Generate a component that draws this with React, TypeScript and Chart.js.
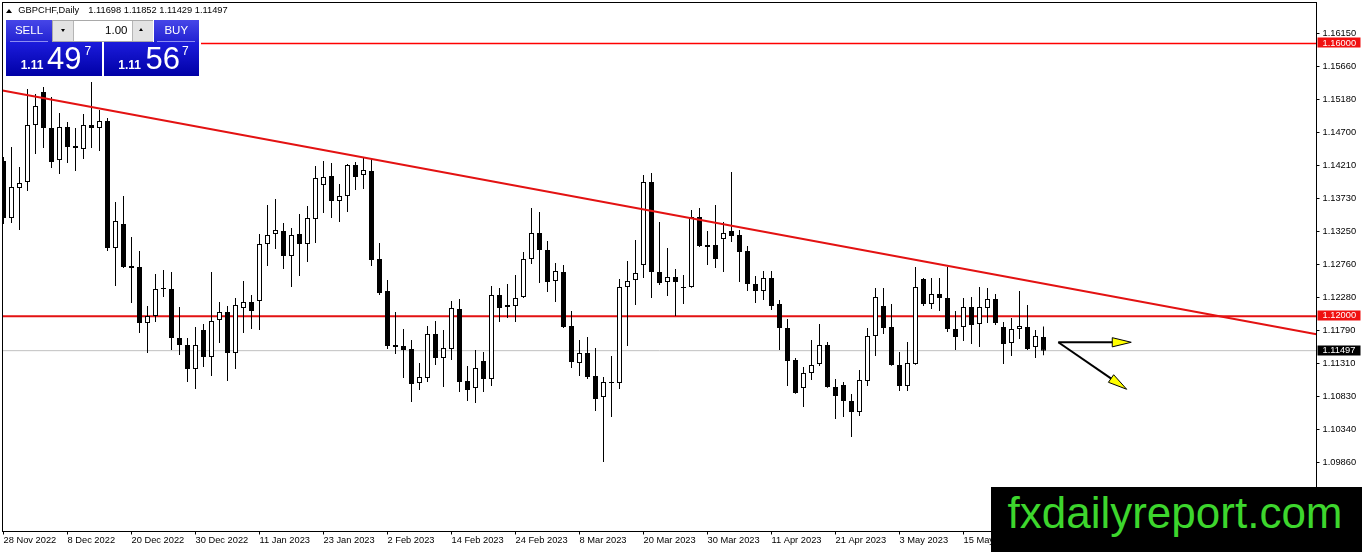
import React, { useEffect, useRef } from "react";
import { Chart, registerables } from "chart.js";

Chart.register(...registerables);

const FONT = '"Liberation Sans", Arial, sans-serif';

// ---- Daily GBPCHF candles (open / high / low / close) ----
const OPEN = [
  1.14277, 1.13442, 1.13882, 1.1397, 1.14806, 1.1529, 1.14762, 1.14292, 1.14776, 1.14498,
  1.14454, 1.14806, 1.14762, 1.14864, 1.13002, 1.13354, 1.12738, 1.12723, 1.11903, 1.12005,
  1.12416, 1.12402, 1.11683, 1.11581, 1.11228, 1.118, 1.11404, 1.11947, 1.12064, 1.11463,
  1.12123, 1.12211, 1.12225, 1.13061, 1.13207, 1.13251, 1.12885, 1.13207, 1.13061, 1.13428,
  1.13926, 1.14058, 1.13691, 1.13765, 1.14219, 1.14073, 1.14131, 1.12841, 1.12372, 1.11581,
  1.11566, 1.11522, 1.11023, 1.11097, 1.11741, 1.1139, 1.11522, 1.12108, 1.11052, 1.1095,
  1.11346, 1.11082, 1.12314, 1.12137, 1.12152, 1.12284, 1.12841, 1.13222, 1.12973, 1.12518,
  1.12651, 1.11859, 1.11316, 1.11463, 1.11126, 1.10818, 1.11038, 1.11023, 1.1243, 1.12533,
  1.12753, 1.1397, 1.12651, 1.12504, 1.12577, 1.1243, 1.1243, 1.13457, 1.13046, 1.13046,
  1.13134, 1.13251, 1.13193, 1.12958, 1.12474, 1.12372, 1.12562, 1.12181, 1.1183, 1.1136,
  1.1095, 1.1117, 1.11302, 1.11581, 1.10965, 1.10994, 1.10759, 1.10598, 1.11052, 1.11712,
  1.12152, 1.11844, 1.11287, 1.1098, 1.11302, 1.12548, 1.12181, 1.12328, 1.12269, 1.11815,
  1.11844, 1.12137, 1.11888, 1.12123, 1.12255, 1.11844, 1.1161, 1.11815, 1.11844, 1.11551,
  1.11698,
];
const HIGH = [
  1.14336, 1.14483, 1.14189, 1.15334, 1.1526, 1.15362, 1.15216, 1.14981, 1.1485, 1.14762,
  1.14966, 1.15436, 1.15025, 1.14908, 1.13677, 1.13765, 1.13163, 1.12958, 1.12152, 1.12621,
  1.1268, 1.12651, 1.12137, 1.11683, 1.11844, 1.11888, 1.12651, 1.12211, 1.12152, 1.12269,
  1.12518, 1.12314, 1.13207, 1.13633, 1.13721, 1.13369, 1.13296, 1.135, 1.13618, 1.14204,
  1.14277, 1.14248, 1.1394, 1.14234, 1.14263, 1.14322, 1.14322, 1.13076, 1.12533, 1.12064,
  1.11815, 1.11654, 1.11316, 1.11859, 1.11932, 1.118, 1.12225, 1.12255, 1.11272, 1.11507,
  1.11478, 1.12445, 1.12416, 1.12474, 1.12606, 1.12944, 1.13589, 1.1353, 1.13105, 1.12782,
  1.12753, 1.12078, 1.11654, 1.11698, 1.11537, 1.11111, 1.11419, 1.12548, 1.12812, 1.1312,
  1.14073, 1.14102, 1.13384, 1.13002, 1.12694, 1.12606, 1.13559, 1.13589, 1.13251, 1.13633,
  1.13384, 1.14117, 1.13266, 1.13032, 1.12592, 1.12665, 1.12665, 1.1224, 1.11961, 1.1139,
  1.11257, 1.11654, 1.11888, 1.11624, 1.11082, 1.11038, 1.10862, 1.11214, 1.1183, 1.12416,
  1.12416, 1.12181, 1.11478, 1.11624, 1.12723, 1.12562, 1.12562, 1.12562, 1.12723, 1.12078,
  1.12269, 1.12284, 1.1243, 1.12416, 1.12328, 1.11918, 1.11976, 1.12372, 1.12167, 1.118,
  1.11852,
];
const LOW = [
  1.13354, 1.13369, 1.13266, 1.13838, 1.1438, 1.14469, 1.14175, 1.14087, 1.14248, 1.14131,
  1.14307, 1.14469, 1.14424, 1.12958, 1.12445, 1.12709, 1.12196, 1.11756, 1.11463, 1.11918,
  1.12284, 1.11507, 1.11434, 1.11038, 1.10936, 1.11257, 1.11126, 1.1161, 1.11052, 1.11228,
  1.11756, 1.11815, 1.118, 1.12738, 1.12988, 1.12694, 1.1243, 1.12592, 1.12797, 1.13076,
  1.13515, 1.13442, 1.13384, 1.1353, 1.13853, 1.13867, 1.12738, 1.12314, 1.11522, 1.11448,
  1.11097, 1.10745, 1.10921, 1.11038, 1.11287, 1.10965, 1.1136, 1.10892, 1.10759, 1.1073,
  1.10892, 1.1098, 1.11918, 1.11976, 1.11918, 1.12269, 1.12767, 1.12489, 1.12358, 1.12211,
  1.1183, 1.11243, 1.11126, 1.11082, 1.10613, 1.09865, 1.10525, 1.10936, 1.11566, 1.12167,
  1.12562, 1.12269, 1.1246, 1.12299, 1.12005, 1.12181, 1.1242, 1.13017, 1.12753, 1.12709,
  1.12651, 1.1309, 1.12504, 1.12372, 1.12196, 1.1224, 1.12093, 1.11507, 1.1098, 1.10865,
  1.10671, 1.11067, 1.11272, 1.10955, 1.10496, 1.10525, 1.10232, 1.1054, 1.1098, 1.11419,
  1.11741, 1.11275, 1.10906, 1.10906, 1.1129, 1.12152, 1.12108, 1.12078, 1.11771, 1.11507,
  1.11639, 1.11595, 1.11551, 1.11903, 1.11874, 1.11302, 1.11419, 1.11668, 1.11507, 1.1139,
  1.11429,
];
const CLOSE = [
  1.13442, 1.13896, 1.13955, 1.14806, 1.15084, 1.14762, 1.14263, 1.14776, 1.14483, 1.14469,
  1.14806, 1.14762, 1.14864, 1.13002, 1.13398, 1.12723, 1.12709, 1.11903, 1.12005, 1.12402,
  1.12402, 1.11683, 1.11581, 1.11228, 1.11581, 1.11404, 1.11932, 1.12064, 1.11463, 1.12167,
  1.12211, 1.12078, 1.13061, 1.13193, 1.13266, 1.12885, 1.13193, 1.13061, 1.13442, 1.14029,
  1.14043, 1.13691, 1.13765, 1.14219, 1.14043, 1.14146, 1.12826, 1.12343, 1.11566, 1.11551,
  1.11507, 1.11008, 1.11111, 1.11741, 1.1139, 1.11537, 1.12123, 1.11038, 1.10921, 1.11243,
  1.11082, 1.12314, 1.12123, 1.12167, 1.12269, 1.12841, 1.13222, 1.12973, 1.12504, 1.12665,
  1.11844, 1.11331, 1.11463, 1.11111, 1.10789, 1.11038, 1.11023, 1.1243, 1.12518, 1.12636,
  1.1397, 1.12651, 1.12489, 1.12577, 1.12504, 1.12416, 1.13457, 1.13032, 1.13017, 1.12841,
  1.13222, 1.13178, 1.12944, 1.12474, 1.12372, 1.12562, 1.12152, 1.1183, 1.11346, 1.10877,
  1.1117, 1.11287, 1.11581, 1.10965, 1.10833, 1.10759, 1.10598, 1.11067, 1.11712, 1.12284,
  1.1183, 1.11287, 1.1098, 1.11316, 1.1243, 1.12181, 1.12328, 1.12269, 1.11815, 1.11698,
  1.12137, 1.11874, 1.12137, 1.12255, 1.11903, 1.11595, 1.11815, 1.11859, 1.11522, 1.11712,
  1.11497,
];

// ---- axes ----
const DATE_LABELS = [
  "28 Nov 2022", "8 Dec 2022", "20 Dec 2022", "30 Dec 2022", "11 Jan 2023", "23 Jan 2023",
  "2 Feb 2023", "14 Feb 2023", "24 Feb 2023", "8 Mar 2023", "20 Mar 2023", "30 Mar 2023",
  "11 Apr 2023", "21 Apr 2023", "3 May 2023", "15 May 2023", "25 May 2023",
];
const BARS_PER_LABEL = 8;
const PRICE_TICKS = [
  1.1615, 1.1566, 1.1518, 1.147, 1.1421, 1.1373, 1.1325, 1.1276, 1.1228, 1.1179, 1.1131,
  1.1083, 1.1034, 1.0986,
];
const X_MIN = -0.125;
const X_MAX = 164.125;
const Y_MIN = 1.08846;
const Y_MAX = 1.16601;

// ---- drawing objects ----
const LEVEL_THIN = 1.16;
const LEVEL_THICK = 1.12;
const BID = 1.11497;
const TREND_LINE = [
  { x: -0.125, y: 1.15311 },
  { x: 164.125, y: 1.11739 },
];
const ARROW_START = { x: 131.85, y: 1.1162 };
const ARROW_ENDS = [
  { x: 140.97, y: 1.1162 },
  { x: 140.4, y: 1.10931 },
];

const RED = "#e31212";

function drawArrow(ctx: CanvasRenderingContext2D, x1: number, y1: number, x2: number, y2: number) {
  const ang = Math.atan2(y2 - y1, x2 - x1);
  const len = 19;
  const hw = 4.6;
  const bx = x2 - len * Math.cos(ang);
  const by = y2 - len * Math.sin(ang);
  ctx.beginPath();
  ctx.moveTo(x1, y1);
  ctx.lineTo(bx + 2 * Math.cos(ang), by + 2 * Math.sin(ang));
  ctx.strokeStyle = "#000";
  ctx.lineWidth = 2;
  ctx.stroke();
  ctx.beginPath();
  ctx.moveTo(x2, y2);
  ctx.lineTo(bx + hw * Math.sin(ang), by - hw * Math.cos(ang));
  ctx.lineTo(bx - hw * Math.sin(ang), by + hw * Math.cos(ang));
  ctx.closePath();
  ctx.fillStyle = "#ffff00";
  ctx.fill();
  ctx.lineWidth = 1;
  ctx.strokeStyle = "#000";
  ctx.stroke();
}

const overlayPlugin = {
  id: "mtOverlay",
  afterDraw(chart: any) {
    const { ctx, chartArea: a, scales } = chart;
    const xs = scales.x;
    const ys = scales.y;
    ctx.save();
    // frame
    ctx.strokeStyle = "#000";
    ctx.lineWidth = 1;
    ctx.strokeRect(a.left, a.top, a.right - a.left, a.bottom - a.top);
    // arrows
    const sx = xs.getPixelForValue(ARROW_START.x);
    const sy = ys.getPixelForValue(ARROW_START.y);
    ARROW_ENDS.forEach((e) => {
      drawArrow(ctx, sx, sy, xs.getPixelForValue(e.x), ys.getPixelForValue(e.y));
    });
    // price boxes on the axis
    const boxes = [
      { v: LEVEL_THIN, bg: "#f01010" },
      { v: LEVEL_THICK, bg: "#f01010" },
      { v: BID, bg: "#000000" },
    ];
    ctx.font = `9.3px ${FONT}`;
    ctx.textBaseline = "middle";
    ctx.textAlign = "left";
    boxes.forEach((b) => {
      const y = ys.getPixelForValue(b.v);
      ctx.fillStyle = b.bg;
      ctx.fillRect(a.right + 1, Math.round(y) - 5.5, 43, 10);
      ctx.fillStyle = "#fff";
      ctx.fillText(b.v.toFixed(5), a.right + 6, y - 0.5);
    });
    ctx.restore();
  },
};

const abs = (o: React.CSSProperties): React.CSSProperties => ({
  position: "absolute",
  lineHeight: 1,
  whiteSpace: "nowrap",
  fontFamily: FONT,
  margin: 0,
  ...o,
});

export default function App() {
  const ref = useRef<HTMLCanvasElement | null>(null);

  useEffect(() => {
    if (!ref.current) return;
    const idx = OPEN.map((_, i) => i);
    const bodies = idx.map((i) => ({ x: i, y: [OPEN[i], CLOSE[i]] }));
    const wicks = idx.map((i) => ({ x: i, y: [LOW[i], HIGH[i]] }));
    const bodyColors = idx.map((i) => (CLOSE[i] >= OPEN[i] ? "#ffffff" : "#000000"));
    const hline = (v: number) => [
      { x: X_MIN, y: v },
      { x: X_MAX, y: v },
    ];
    const tickFont = { family: FONT, size: 9.3 };

    const chart = new Chart(ref.current, {
      type: "bar",
      data: {
        datasets: [
          {
            type: "line",
            data: TREND_LINE,
            borderColor: RED,
            borderWidth: 2,
            pointRadius: 0,
            order: 0,
          } as any,
          {
            type: "bar",
            data: bodies,
            backgroundColor: bodyColors,
            borderColor: "#000",
            borderWidth: 1,
            borderSkipped: false,
            grouped: false,
            maxBarThickness: 5,
            inflateAmount: 0,
            order: 1,
          } as any,
          {
            type: "bar",
            data: wicks,
            backgroundColor: "#000",
            borderWidth: 0,
            grouped: false,
            maxBarThickness: 1,
            inflateAmount: 0,
            order: 2,
          } as any,
          {
            type: "line",
            data: hline(LEVEL_THICK),
            borderColor: RED,
            borderWidth: 2,
            pointRadius: 0,
            order: 3,
          } as any,
          {
            type: "line",
            data: hline(LEVEL_THIN),
            borderColor: "#ff0000",
            borderWidth: 1.4,
            pointRadius: 0,
            order: 3,
          } as any,
          {
            type: "line",
            data: hline(BID),
            borderColor: "#c0c0c0",
            borderWidth: 1,
            pointRadius: 0,
            order: 4,
          } as any,
        ],
      },
      options: {
        animation: false,
        responsive: false,
        maintainAspectRatio: false,
        events: [],
        layout: { padding: { left: 2.5, top: 2.5, right: 0, bottom: 0 } },
        plugins: { legend: { display: false }, tooltip: { enabled: false } },
        scales: {
          x: {
            type: "linear",
            position: "bottom",
            min: X_MIN,
            max: X_MAX,
            offset: false,
            grid: {
              display: true,
              drawOnChartArea: false,
              drawTicks: true,
              tickLength: 3,
              color: "#000",
              offset: false,
            },
            border: { display: false },
            afterBuildTicks: (s: any) => {
              s.ticks = DATE_LABELS.map((_, i) => ({ value: i * BARS_PER_LABEL }));
            },
            afterFit: (s: any) => {
              s.height = 20.5;
              s.paddingLeft = 0;
              s.paddingRight = 0;
            },
            ticks: {
              autoSkip: false,
              maxRotation: 0,
              minRotation: 0,
              align: "start",
              padding: 0,
              color: "#000",
              font: tickFont,
              callback: (_v: any, i: number) => DATE_LABELS[i] ?? "",
            },
          } as any,
          y: {
            type: "linear",
            position: "right",
            min: Y_MIN,
            max: Y_MAX,
            beginAtZero: false,
            grid: {
              display: true,
              drawOnChartArea: false,
              drawTicks: true,
              tickLength: 3,
              color: "#000",
            },
            border: { display: false },
            afterBuildTicks: (s: any) => {
              s.ticks = PRICE_TICKS.map((v) => ({ value: v }));
            },
            afterFit: (s: any) => {
              s.width = 45.5;
              s.paddingTop = 0;
              s.paddingBottom = 0;
            },
            ticks: {
              autoSkip: false,
              padding: 3,
              color: "#000",
              font: tickFont,
              callback: (v: any) => Number(v).toFixed(5),
            },
          } as any,
        },
      },
      plugins: [overlayPlugin],
    });
    return () => chart.destroy();
  }, []);

  const blueTop = "linear-gradient(#4646e8, #2222d2)";
  const bluePrice = "linear-gradient(#1c1cdc, #0000a6)";

  return (
    <div
      style={{
        position: "fixed",
        left: 0,
        top: 0,
        width: 1362,
        height: 552,
        background: "#fff",
        overflow: "hidden",
      }}
    >
      <canvas
        ref={ref}
        width={1362}
        height={552}
        style={{ position: "absolute", left: 0, top: 0, width: 1362, height: 552, display: "block" }}
      />

      {/* header */}
      <div
        style={{
          position: "absolute",
          left: 6,
          top: 9,
          width: 0,
          height: 0,
          borderLeft: "3.5px solid transparent",
          borderRight: "3.5px solid transparent",
          borderBottom: "4.5px solid #000",
        }}
      />
      <span style={abs({ left: 18.3, top: 6.4, fontSize: 9.3, color: "#000" })}>GBPCHF,Daily</span>
      <span style={abs({ left: 88.3, top: 6.4, fontSize: 9.3, color: "#000" })}>
        1.11698 1.11852 1.11429 1.11497
      </span>

      {/* one-click trading panel */}
      <div style={{ position: "absolute", left: 3, top: 18.5, width: 198, height: 59, background: "#fff" }} />
      <div style={{ position: "absolute", left: 6, top: 20, width: 46, height: 22, background: blueTop }} />
      <div style={{ position: "absolute", left: 153.5, top: 20, width: 45.5, height: 22, background: blueTop }} />
      <div style={{ position: "absolute", left: 6, top: 42, width: 96, height: 34, background: bluePrice }} />
      <div style={{ position: "absolute", left: 104, top: 42, width: 95, height: 34, background: bluePrice }} />
      <div style={{ position: "absolute", left: 10, top: 41, width: 38, height: 1, background: "#8c8cf2" }} />
      <div style={{ position: "absolute", left: 157, top: 41, width: 38, height: 1, background: "#8c8cf2" }} />
      <span style={abs({ left: 6, top: 25, width: 46, textAlign: "center", fontSize: 11.5, color: "#fff" })}>
        SELL
      </span>
      <span style={abs({ left: 153.5, top: 25, width: 45.5, textAlign: "center", fontSize: 11.5, color: "#fff" })}>
        BUY
      </span>
      {/* lot size control */}
      <div
        style={{
          position: "absolute",
          left: 52,
          top: 20,
          width: 99,
          height: 20,
          border: "1px solid #a9a9a9",
          background: "#fff",
        }}
      />
      <div
        style={{
          position: "absolute",
          left: 53,
          top: 21,
          width: 20,
          height: 20,
          background: "#e3e3e3",
          borderRight: "1px solid #b5b5b5",
        }}
      />
      <div
        style={{
          position: "absolute",
          left: 131.5,
          top: 21,
          width: 20,
          height: 20,
          background: "#e3e3e3",
          borderLeft: "1px solid #b5b5b5",
        }}
      />
      <div
        style={{
          position: "absolute",
          left: 61,
          top: 28.5,
          width: 0,
          height: 0,
          borderLeft: "2.5px solid transparent",
          borderRight: "2.5px solid transparent",
          borderTop: "3px solid #000",
        }}
      />
      <div
        style={{
          position: "absolute",
          left: 139,
          top: 28,
          width: 0,
          height: 0,
          borderLeft: "2.5px solid transparent",
          borderRight: "2.5px solid transparent",
          borderBottom: "3px solid #000",
        }}
      />
      <span style={abs({ left: 73, top: 24.6, width: 54.5, textAlign: "right", fontSize: 11.5, color: "#000" })}>
        1.00
      </span>
      {/* sell price */}
      <span style={abs({ left: 20.7, top: 59.1, fontSize: 12, fontWeight: "bold", color: "#fff" })}>1.11</span>
      <span style={abs({ left: 47, top: 43.1, fontSize: 31, color: "#fff" })}>49</span>
      <span style={abs({ left: 84.5, top: 45.1, fontSize: 12, color: "#fff" })}>7</span>
      {/* buy price */}
      <span style={abs({ left: 118.3, top: 59.1, fontSize: 12, fontWeight: "bold", color: "#fff" })}>1.11</span>
      <span style={abs({ left: 145.5, top: 43.1, fontSize: 31, color: "#fff" })}>56</span>
      <span style={abs({ left: 182, top: 45.1, fontSize: 12, color: "#fff" })}>7</span>

      {/* watermark */}
      <div style={{ position: "absolute", left: 991, top: 487, width: 371, height: 65, background: "#000" }} />
      <span style={abs({ left: 1007.5, top: 491.3, fontSize: 44, color: "#3dd62d" })}>fxdailyreport.com</span>
    </div>
  );
}
